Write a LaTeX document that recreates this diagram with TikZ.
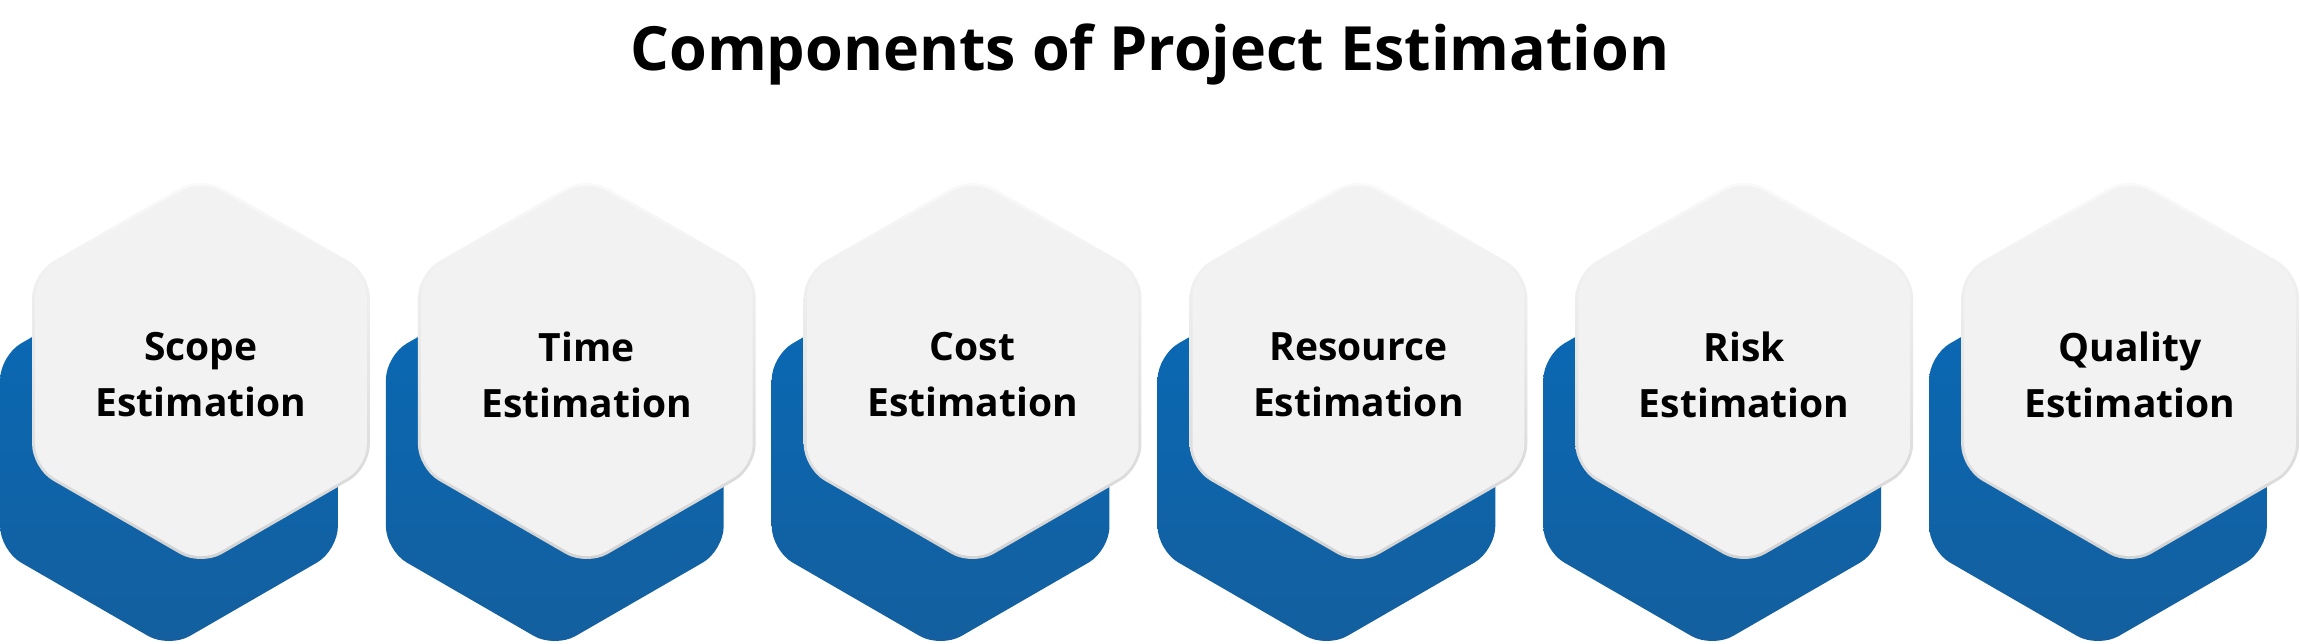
\documentclass[tikz,border=0pt]{standalone}
\usepackage{fontspec}
\setmainfont{Open Sans}
\definecolor{blueTop}{RGB}{8,106,183}
\definecolor{blueBot}{RGB}{20,95,158}
\definecolor{faceGray}{RGB}{242,242,242}
\definecolor{rimTop}{RGB}{250,250,250}
\definecolor{rimBot}{RGB}{210,210,210}
\newcommand\hexshape[4]{% #1 style, #2 cx, #3 cy, #4 R
  \path[#1] ({#2},{#3-#4}) -- ({#2+0.8660254*#4},{#3-0.5*#4}) -- ({#2+0.8660254*#4},{#3+0.5*#4}) -- ({#2},{#3+#4}) -- ({#2-0.8660254*#4},{#3+0.5*#4}) -- ({#2-0.8660254*#4},{#3-0.5*#4}) -- cycle;}
\begin{document}
\begin{tikzpicture}[x=1pt,y=-1pt,
  bluehex/.style={top color=blueTop, bottom color=blueBot, rounded corners=24pt},
  rimhex/.style={top color=rimTop, bottom color=rimBot, rounded corners=24pt},
  facehex/.style={fill=faceGray, rounded corners=22pt},
  hexlabel/.style={font=\fontsize{39}{56}\selectfont\bfseries, align=center, text=black, inner sep=0pt},
  titlelabel/.style={font=\fontsize{61}{73}\selectfont\bfseries, text=black, inner sep=0pt}]
\useasboundingbox (0,0) rectangle (2300,643);
\fill[white] (0,0) rectangle (2300,643);
\node[titlelabel, anchor=base] (title) at (1150,70) {Components of Project Estimation};
\foreach \i/\a in {0/Scope, 1/Time, 2/Cost, 3/Resource, 4/Risk, 5/Quality} {
  \pgfmathsetmacro\cx{201+385.8*\i}
  \pgfmathsetmacro\bx{\cx-32}
  \hexshape{bluehex}{\bx}{453}{195}
  \hexshape{rimhex}{\cx}{371}{195}
  \hexshape{facehex}{\cx}{371}{191.5}
  \node[hexlabel] (lbl\i) at (\cx,375) {\a\\Estimation};
}
\end{tikzpicture}
\end{document}
